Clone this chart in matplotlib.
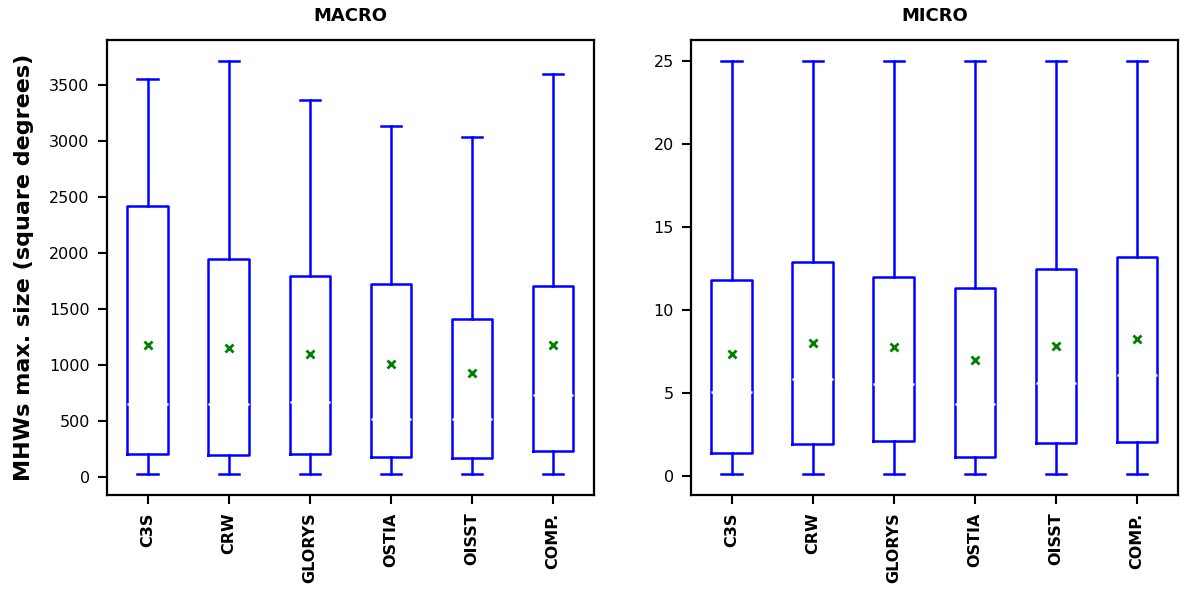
import matplotlib
matplotlib.use('Agg')
import matplotlib.pyplot as plt

products = ['C3S', 'CRW', 'GLORYS', 'OSTIA', 'OISST', 'COMP.']

# MACRO (square degrees)
macro_whislo = [27, 27, 27, 27, 27, 27]
macro_q1 = [208, 202, 208, 181, 175, 232]
macro_med = [659, 659, 674, 525, 522, 736]
macro_q3 = [2420, 1948, 1802, 1730, 1416, 1710]
macro_whishi = [3560, 3720, 3372, 3138, 3037, 3604]
macro_mean = [1182, 1155, 1104, 1015, 929, 1184]

# MICRO (square degrees)
micro_whislo = [0.1, 0.1, 0.1, 0.1, 0.1, 0.1]
micro_q1 = [1.40, 1.90, 2.12, 1.14, 1.98, 2.03]
micro_med = [5.05, 5.81, 5.51, 4.31, 5.61, 6.09]
micro_q3 = [11.82, 12.88, 12.0, 11.34, 12.44, 13.18]
micro_whishi = [25.0, 25.0, 25.0, 25.0, 25.0, 25.0]
micro_mean = [7.37, 8.03, 7.77, 6.97, 7.85, 8.23]


def make_stats(lo, q1, med, q3, hi, mean):
    stats = []
    for i, name in enumerate(products):
        stats.append({'label': name, 'whislo': lo[i], 'q1': q1[i], 'med': med[i],
                      'q3': q3[i], 'whishi': hi[i], 'mean': mean[i], 'fliers': []})
    return stats


fig, axes = plt.subplots(1, 2, figsize=(11.8, 5.91), dpi=100)
fig.subplots_adjust(left=0.0907, right=0.998, top=0.9323, bottom=0.1624, wspace=0.2)

panels = [
    ('MACRO', make_stats(macro_whislo, macro_q1, macro_med, macro_q3, macro_whishi, macro_mean)),
    ('MICRO', make_stats(micro_whislo, micro_q1, micro_med, micro_q3, micro_whishi, micro_mean)),
]

for ax, (title, stats) in zip(axes, panels):
    ax.bxp(stats, widths=0.5, showmeans=True, showfliers=False,
           boxprops=dict(color='blue', linewidth=1.8),
           whiskerprops=dict(color='blue', linewidth=1.8),
           capprops=dict(color='blue', linewidth=1.8),
           medianprops=dict(color='white', linewidth=1.8),
           meanprops=dict(marker='x', markeredgecolor='green', markeredgewidth=2,
                          markersize=6))
    ax.set_title(title, fontsize=13, weight='bold', pad=14)
    ax.tick_params(axis='both', labelsize=11.5, length=6.5, width=1.5, pad=6)
    for label in ax.get_xticklabels():
        label.set_rotation(90)
        label.set_fontweight('bold')
    for spine in ax.spines.values():
        spine.set_linewidth(1.6)

axes[0].set_ylabel('MHWs max. size (square degrees)', fontsize=16, weight='bold',
                   labelpad=11)

fig.savefig('out.png')
